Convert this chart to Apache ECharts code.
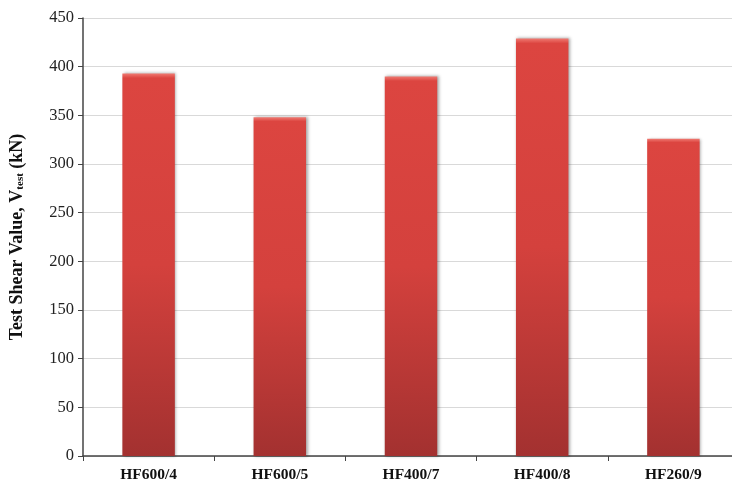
<!DOCTYPE html>
<html><head><meta charset="utf-8">
<script src="https://cdn.jsdelivr.net/npm/echarts@6/dist/echarts.min.js"></script>
<style>html,body{margin:0;padding:0;background:#fff;overflow:hidden;width:732px;height:489px}#c{width:740px;height:489px}</style>
</head><body><div id="c"></div>
<script>
const categories = ['HF600/4','HF600/5','HF400/7','HF400/8','HF260/9'];
const shearValues = [393, 348, 390, 429, 326];
const yTicks = [0,50,100,150,200,250,300,350,400,450];

const chart = echarts.init(document.getElementById('c'));
chart.setOption({
  animation:false,
  backgroundColor:'#fff',
  grid:{left:81,top:18,bottom:33,right:1,containLabel:false},
  xAxis:{type:'category',data:categories,
    axisLine:{lineStyle:{color:'#444',width:1.5}},
    axisTick:{show:true,alignWithLabel:false,length:5,lineStyle:{color:'#444'}},
    axisLabel:{fontFamily:'Liberation Serif',fontWeight:'bold',fontSize:15.5,color:'#111',margin:11}},
  yAxis:{type:'value',min:0,max:450,interval:50,
    name:'{a|Test Shear Value, V}{b|test}{a| (kN)}',nameLocation:'middle',nameGap:57,nameRotate:90,
    nameTextStyle:{rich:{a:{fontFamily:'Liberation Serif',fontWeight:'bold',fontSize:18,color:'#111'},
                         b:{fontFamily:'Liberation Serif',fontWeight:'bold',fontSize:11,color:'#111',verticalAlign:'bottom',padding:[7,0,0,0]}}},
    axisLine:{show:true,lineStyle:{color:'#444',width:1.5}},
    axisTick:{show:true,length:5,lineStyle:{color:'#444'}},
    axisLabel:{fontFamily:'Liberation Serif',fontSize:16.5,color:'#222',margin:9,
      formatter:function(v){return yTicks.indexOf(v)>=0?String(v):'';}},
    splitLine:{lineStyle:{color:'#d9d9d9',width:1}}},
  series:[{type:'bar',data:shearValues,barWidth:'40%',
    itemStyle:{
      color:new echarts.graphic.LinearGradient(0,0,0,1,[
        {offset:0,color:'#f07a72'},{offset:0.012,color:'#dc4540'},{offset:0.5,color:'#d4413d'},{offset:1,color:'#a33130'}]),
      shadowColor:'rgba(0,0,0,0.35)',shadowBlur:3,shadowOffsetX:1.5,shadowOffsetY:0}
  }]
});
</script></body></html>
